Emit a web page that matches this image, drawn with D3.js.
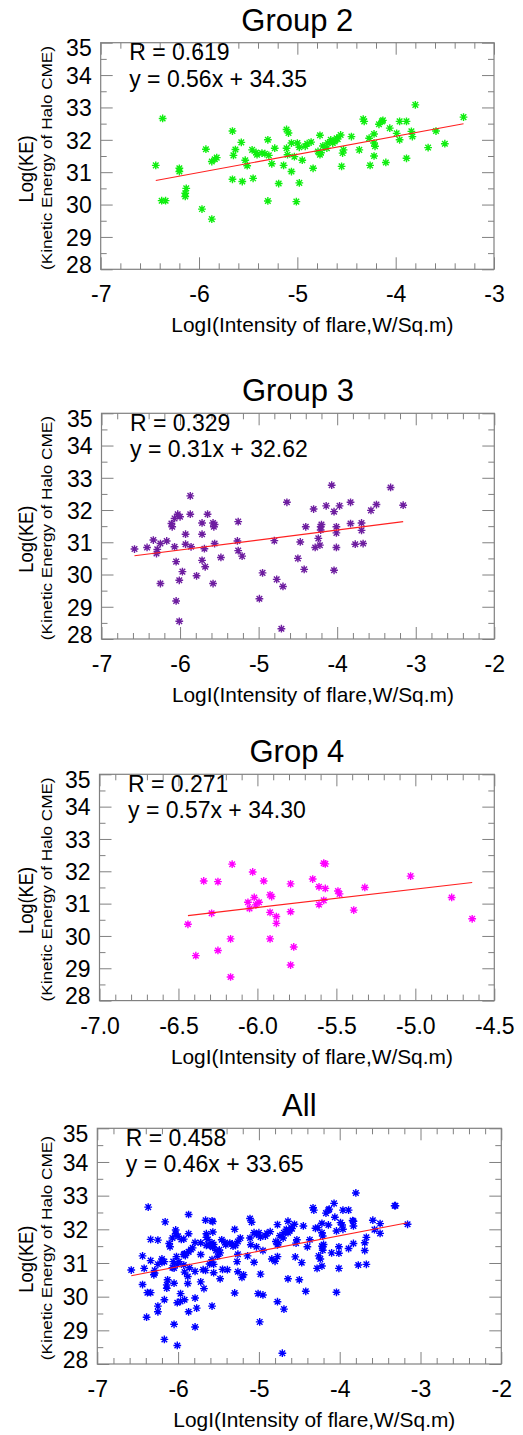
<!DOCTYPE html>
<html><head><meta charset="utf-8">
<script src="https://cdn.jsdelivr.net/npm/d3@7"></script>
<style>body{margin:0;background:#fff} svg{display:block}</style>
</head><body><svg id="c" width="523" height="1435"></svg>
<script>
// ---------------- DATA ----------------
const titles = ["Group 2", "Group 3", "Grop 4", "All"];
const rValues = ["0.619", "0.329", "0.271", "0.458"];
const slopes = [0.56, 0.31, 0.57, 0.46];
const intercepts = [34.35, 32.62, 34.30, 33.65];
const yTicks = [28, 29, 30, 31, 32, 33, 34, 35];
const xTicksA = [-7, -6, -5, -4, -3];
const xTicksB = [-7, -6, -5, -4, -3, -2];
const xTicksC = [-7.0, -6.5, -6.0, -5.5, -5.0, -4.5];
const xTickLabelsC = ["-7.0", "-6.5", "-6.0", "-5.5", "-5.0", "-4.5"];
const xTitle = "LogI(Intensity of flare,W/Sq.m)";
const yTitle = "Log(KE)";
const ySubTitle = "(Kinetic Energy of Halo CME)";

const g2LogI = [-6.44,-6.37,-6.38,-6.34,-6.20,-6.20,-6.13,-6.14,-6.14,-5.97,-5.87,-5.93,-5.87,-5.82,-5.84,-5.66,-5.66,-5.65,-5.63,-5.57,
 -5.56,-5.53,-5.51,-5.45,-5.46,-5.42,-5.41,-5.36,-5.33,-5.30,-5.30,-5.29,-5.26,-5.23,-5.19,-5.14,-5.11,-5.09,-5.11,-5.10,
 -5.06,-5.06,-5.03,-5.01,-5.00,-4.98,-4.98,-4.95,-4.92,-4.90,-4.86,-4.84,-4.79,-4.77,-4.76,-4.77,-4.74,-4.70,-4.69,-4.66,
 -4.64,-4.62,-4.60,-4.59,-4.56,-4.54,-4.53,-4.55,-4.45,-4.37,-4.33,-4.32,-4.27,-4.26,-4.22,-4.22,-4.21,-4.22,-4.17,-4.14,
 -4.13,-4.10,-4.06,-3.99,-3.96,-3.96,-3.89,-3.89,-3.84,-3.83,-3.80,-3.67,-3.59,-3.50,-3.31];
const g2LogKE = [31.21,32.66,30.12,30.12,31.12,31.02,30.50,30.35,30.25,29.86,29.55,31.71,31.33,31.45,31.40,32.27,30.78,31.52,31.70,31.92,
 30.71,31.37,31.20,30.81,31.69,31.61,31.54,31.59,31.57,32.00,30.11,31.52,31.26,31.74,30.65,31.21,32.32,32.21,31.74,31.54,
 31.02,31.90,31.48,30.09,31.90,31.77,30.67,31.37,31.80,31.88,31.93,31.12,31.64,31.54,31.60,32.14,31.81,31.74,31.90,32.00,
 31.90,31.95,32.05,32.02,32.15,31.59,31.69,31.18,32.10,31.69,32.64,32.57,32.05,31.21,32.18,31.90,31.80,31.50,32.48,32.57,
 32.60,31.30,32.36,32.20,32.00,32.57,32.57,31.43,32.26,32.10,33.08,31.76,32.27,31.88,32.70];

const g3LogI = [-6.58,-6.42,-6.34,-6.29,-6.30,-6.25,-6.25,-6.17,-6.11,-6.10,-6.07,-6.03,-6.00,-6.07,-6.05,-6.05,-6.01,-6.01,-5.97,-5.93,
 -5.93,-5.87,-5.87,-5.86,-5.79,-5.72,-5.72,-5.72,-5.69,-5.68,-5.65,-5.58,-5.57,-5.56,-5.56,-5.58,-5.48,-5.26,-5.27,-5.26,
 -5.21,-4.99,-4.95,-4.80,-4.77,-4.71,-4.69,-4.64,-4.50,-4.47,-4.42,-4.40,-4.30,-4.28,-4.24,-4.22,-4.21,-4.20,-4.21,-4.14,
 -4.07,-4.04,-4.04,-4.01,-4.01,-4.01,-3.97,-3.83,-3.83,-3.77,-3.69,-3.69,-3.67,-3.57,-3.50,-3.32,-3.16];
const g3LogKE = [30.79,30.84,31.07,30.78,30.65,30.96,29.72,31.04,31.58,31.48,31.74,31.87,31.79,30.86,30.40,29.18,28.55,29.82,30.09,31.25,
 30.94,32.44,31.87,30.86,29.96,31.60,31.25,30.44,30.80,30.24,31.87,31.60,31.48,31.55,30.96,29.72,30.53,31.64,31.04,30.74,
 30.57,29.25,30.05,31.05,29.85,28.32,29.63,32.24,30.50,31.01,30.16,31.48,32.03,30.84,31.12,30.91,31.48,31.55,31.38,32.13,
 32.77,31.95,30.13,31.48,31.29,30.84,32.13,32.24,31.58,30.94,31.60,31.37,30.96,31.99,32.17,32.70,32.15];

const g4LogI = [-6.44,-6.39,-6.34,-6.29,-6.25,-6.25,-6.17,-6.17,-6.16,-6.06,-6.05,-6.03,-6.02,-6.01,-5.99,-5.96,-5.92,-5.91,-5.92,-5.92,
 -5.88,-5.88,-5.79,-5.79,-5.79,-5.77,-5.65,-5.61,-5.61,-5.58,-5.57,-5.58,-5.57,-5.49,-5.48,-5.39,-5.32,-5.03,-4.77,-4.64];
const g4LogKE = [30.36,29.39,31.70,30.70,31.68,29.55,29.91,28.73,32.22,31.04,30.85,31.98,31.19,30.96,31.04,31.70,31.27,31.22,30.73,29.91,
 30.60,30.39,31.61,30.75,29.10,29.66,31.76,31.52,30.97,32.25,32.23,31.10,31.47,31.39,31.30,30.80,31.50,31.85,31.19,30.53];

const allLogI = [...g2LogI, ...g3LogI, ...g4LogI];
const allLogKE = [...g2LogKE, ...g3LogKE, ...g4LogKE];

// ---------------- LAYOUT / STYLE ----------------
const FONT = "'Liberation Sans', Arial, Helvetica, sans-serif";
const AXIS_COLOR = "#808080";
const panels = [
  {xs: g2LogI, ys: g2LogKE, color: "#10ee10", box: [100.7, 42.7, 494, 269.3], xDomain: [-7, -3], xMajor: xTicksA, xLabels: xTicksA.map(String), xMinorStep: 0.2},
  {xs: g3LogI, ys: g3LogKE, color: "#6e1ea0", box: [101.5, 413.3, 494.3, 639], xDomain: [-7, -2], xMajor: xTicksB, xLabels: xTicksB.map(String), xMinorStep: 0.2},
  {xs: g4LogI, ys: g4LogKE, color: "#ff00ff", box: [99.5, 774.3, 494.3, 1000.6], xDomain: [-7, -4.5], xMajor: xTicksC, xLabels: xTickLabelsC, xMinorStep: 0.1},
  {xs: allLogI, ys: allLogKE, color: "#0000ff", box: [97.3, 1128.3, 501.3, 1364], xDomain: [-7, -2], xMajor: xTicksB, xLabels: xTicksB.map(String), xMinorStep: 0.2}
];
const yLabelShift = {35: 5, 28: -5};

const asterisk = {
  draw(ctx, size) {
    const r = Math.sqrt(size) / 2, d = r * 0.72;
    ctx.moveTo(0, -r); ctx.lineTo(0, r);
    ctx.moveTo(-r, 0); ctx.lineTo(r, 0);
    ctx.moveTo(-d, -d); ctx.lineTo(d, d);
    ctx.moveTo(-d, d); ctx.lineTo(d, -d);
  }
};

const svg = d3.select("#c");

function styleAxis(sel) {
  sel.select(".domain").remove();
  sel.selectAll("line").attr("stroke", AXIS_COLOR).attr("stroke-width", 1);
  sel.selectAll("text").attr("font-family", FONT).attr("fill", "#000");
}

panels.forEach((p, i) => {
  const [L, T, R, B] = p.box;
  const x = d3.scaleLinear().domain(p.xDomain).range([L, R]);
  const y = d3.scaleLinear().domain([28, 35]).range([B, T]);
  const g = svg.append("g");

  const n = Math.round((p.xDomain[1] - p.xDomain[0]) / p.xMinorStep);
  const minorX = d3.range(1, n).map(k => p.xDomain[0] + k * p.xMinorStep)
    .filter(v => !p.xMajor.some(m => Math.abs(m - v) < 1e-6));
  const minorY = yTicks.slice(0, -1).map(v => v + 0.5);

  // bottom
  g.append("g").attr("transform", `translate(0,${B})`)
    .call(d3.axisBottom(x).tickValues(minorX).tickSize(-6).tickFormat("")).call(styleAxis);
  const bx = g.append("g").attr("transform", `translate(0,${B})`)
    .call(d3.axisBottom(x).tickValues(p.xMajor).tickSize(-12).tickFormat((d, k) => p.xLabels[k])).call(styleAxis);
  bx.selectAll("text").attr("y", 33).attr("dy", 0).attr("font-size", 23);
  // top
  g.append("g").attr("transform", `translate(0,${T})`)
    .call(d3.axisTop(x).tickValues(minorX).tickSize(-6).tickFormat("")).call(styleAxis);
  g.append("g").attr("transform", `translate(0,${T})`)
    .call(d3.axisTop(x).tickValues(p.xMajor).tickSize(-12).tickFormat("")).call(styleAxis);
  // left
  g.append("g").attr("transform", `translate(${L},0)`)
    .call(d3.axisLeft(y).tickValues(minorY).tickSize(-6).tickFormat("")).call(styleAxis);
  const ly = g.append("g").attr("transform", `translate(${L},0)`)
    .call(d3.axisLeft(y).tickValues(yTicks).tickSize(-12).tickFormat(d3.format("d"))).call(styleAxis);
  ly.selectAll("text").attr("x", -9).attr("dy", "0.36em").attr("font-size", 23)
    .attr("y", d => yLabelShift[d] || 0);
  // right
  g.append("g").attr("transform", `translate(${R},0)`)
    .call(d3.axisRight(y).tickValues(minorY).tickSize(-6).tickFormat("")).call(styleAxis);
  g.append("g").attr("transform", `translate(${R},0)`)
    .call(d3.axisRight(y).tickValues(yTicks).tickSize(-12).tickFormat("")).call(styleAxis);

  // frame
  g.append("rect").attr("x", L).attr("y", T).attr("width", R - L).attr("height", B - T)
    .attr("fill", "none").attr("stroke", AXIS_COLOR).attr("stroke-width", 1.2);

  // points
  const pts = p.xs.map((v, k) => [v, p.ys[k]]);
  g.append("g").selectAll("path").data(pts).join("path")
    .attr("transform", d => `translate(${x(d[0])},${y(d[1])})`)
    .attr("d", d3.symbol().type(asterisk).size(60))
    .attr("fill", "none").attr("stroke", p.color).attr("stroke-width", 1.4);
  g.append("g").selectAll("circle").data(pts).join("circle")
    .attr("cx", d => x(d[0])).attr("cy", d => y(d[1])).attr("r", 1.3).attr("fill", p.color);

  // fit line
  const ext = d3.extent(p.xs);
  const fit = ext.map(v => [v, slopes[i] * v + intercepts[i]]);
  g.append("path").attr("d", d3.line().x(d => x(d[0])).y(d => y(d[1]))(fit))
    .attr("stroke", "#ff2020").attr("stroke-width", 1.1).attr("fill", "none");

  // texts
  const cx = (L + R) / 2, cy = (T + B) / 2;
  g.append("text").attr("x", cx).attr("y", T - 12).attr("text-anchor", "middle")
    .attr("font-family", FONT).attr("font-size", 31).text(titles[i]);
  g.append("text").attr("x", L + 28.5).attr("y", T + 17.5).attr("font-family", FONT).attr("font-size", 23)
    .text(`R = ${rValues[i]}`);
  g.append("text").attr("x", L + 28.5).attr("y", T + 44).attr("font-family", FONT).attr("font-size", 23)
    .text(`y = ${slopes[i].toFixed(2)}x + ${intercepts[i].toFixed(2)}`);
  g.append("text").attr("x", cx + 15).attr("y", B + 63).attr("text-anchor", "middle")
    .attr("font-family", FONT).attr("font-size", 21)
    .attr("textLength", 282).attr("lengthAdjust", "spacingAndGlyphs").text(xTitle);
  g.append("text").attr("transform", `translate(32.5,${cy + 13}) rotate(-90)`).attr("text-anchor", "middle")
    .attr("font-family", FONT).attr("font-size", 20)
    .attr("textLength", 67).attr("lengthAdjust", "spacingAndGlyphs").text(yTitle);
  g.append("text").attr("transform", `translate(52,${cy + 2}) rotate(-90)`).attr("text-anchor", "middle")
    .attr("font-family", FONT).attr("font-size", 14)
    .attr("textLength", 224).attr("lengthAdjust", "spacingAndGlyphs").text(ySubTitle);
});
</script></body></html>
